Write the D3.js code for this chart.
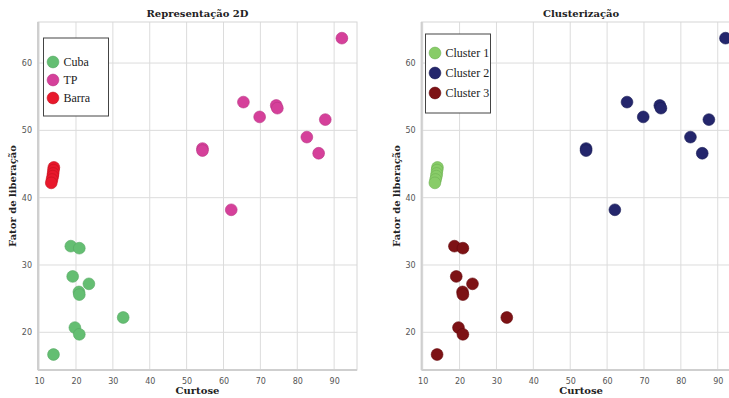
<!DOCTYPE html>
<html lang="pt">

<head>
  <meta charset="utf-8">
  <title>Curtose x Fator de liberação</title>
  <script type="text/javascript" src="https://cdn.jsdelivr.net/npm/d3@7"></script>
  <style>
    body { margin: 0; background: #fff; }
    .legend-text { font-family: "Liberation Serif", "Times New Roman", Times, serif; }
  </style>
</head>

<body>
  <script type="text/javascript">

    // Data
    var cubaX = [13.9, 19.7, 20.9, 32.8, 20.8, 20.9, 23.5, 19.1, 18.6, 20.9];
    var cubaY = [16.7, 20.7, 19.7, 22.2, 26.0, 25.6, 27.2, 28.3, 32.8, 32.5];

    var tpX = [92.1, 65.4, 69.8, 74.3, 74.6, 87.6, 82.6, 54.3, 54.3, 85.8, 62.1];
    var tpY = [63.7, 54.2, 52.0, 53.7, 53.3, 51.6, 49.0, 47.3, 47.0, 46.6, 38.2];

    var barraX = [14.0, 13.9, 13.8, 13.7, 13.5, 13.3];
    var barraY = [44.5, 44.1, 43.6, 43.2, 42.7, 42.2];

    var xTicks = [10, 20, 30, 40, 50, 60, 70, 80, 90];
    var yTicks = [20, 30, 40, 50, 60];

    var groupNames = ["Cuba", "TP", "Barra"];
    var groupColors = ["#64be72", "#d5409a", "#e8182c"];
    var groupEdges = ["#55a863", "#b93584", "#c4101f"];

    // clusters found: Cluster 1 = Barra points, Cluster 2 = TP points, Cluster 3 = Cuba points
    var clusterNames = ["Cluster 1", "Cluster 2", "Cluster 3"];
    var clusterColors = ["#88cc68", "#24266c", "#7d1215"];
    var clusterEdges = ["#6fb254", "#1a1c55", "#64090c"];

    function pts(xs, ys) {
      return xs.map(function (x, i) { return { x: x, y: ys[i] }; });
    }

    var cuba = pts(cubaX, cubaY);
    var tp = pts(tpX, tpY);
    var barra = pts(barraX, barraY);

    var w = 729;
    var h = 398;

    var svg = d3.select("body")
      .append("svg")
      .attr("width", w)
      .attr("height", h);

    var plotW = 319;
    var plotTop = 22;
    var plotBottom = 370;

    function panel(left, title, groups, names, colors, edges, legendBox) {
      var xScale = d3.scaleLinear()
        .domain([9.7, 96.2])
        .range([left, left + plotW]);

      var yScale = d3.scaleLinear()
        .domain([14.4, 66.1])
        .range([plotBottom, plotTop]);

      var g = svg.append("g");

      // grid
      g.selectAll(".vgrid")
        .data(xTicks)
        .enter()
        .append("line")
        .attr("x1", function (d) { return xScale(d); })
        .attr("x2", function (d) { return xScale(d); })
        .attr("y1", plotTop)
        .attr("y2", plotBottom)
        .attr("stroke", "#dcdcdc")
        .attr("stroke-width", 1);

      g.selectAll(".hgrid")
        .data(yTicks)
        .enter()
        .append("line")
        .attr("x1", left)
        .attr("x2", left + plotW)
        .attr("y1", function (d) { return yScale(d); })
        .attr("y2", function (d) { return yScale(d); })
        .attr("stroke", "#dcdcdc")
        .attr("stroke-width", 1);

      // frame
      g.append("rect")
        .attr("x", left)
        .attr("y", plotTop)
        .attr("width", plotW)
        .attr("height", plotBottom - plotTop)
        .attr("fill", "none")
        .attr("stroke", "#d6d6d6")
        .attr("stroke-width", 1);

      g.append("line")
        .attr("x1", left).attr("x2", left)
        .attr("y1", plotTop).attr("y2", plotBottom)
        .attr("stroke", "#cfcfcf").attr("stroke-width", 2);

      g.append("line")
        .attr("x1", left).attr("x2", left + plotW)
        .attr("y1", plotBottom).attr("y2", plotBottom)
        .attr("stroke", "#cfcfcf").attr("stroke-width", 2);

      // axes
      var xAxis = d3.axisBottom(xScale).tickValues(xTicks).tickSize(0).tickPadding(8);
      var yAxis = d3.axisLeft(yScale).tickValues(yTicks).tickSize(0).tickPadding(6);

      var gx = g.append("g")
        .attr("transform", "translate(0," + plotBottom + ")")
        .call(xAxis);
      var gy = g.append("g")
        .attr("transform", "translate(" + left + ",0)")
        .call(yAxis);

      [gx, gy].forEach(function (a) {
        a.select(".domain").remove();
        a.selectAll("text")
          .attr("font-family", "DejaVu Sans, sans-serif")
          .attr("font-size", "8px")
          .attr("fill", "#555");
      });

      // points
      groups.forEach(function (data, k) {
        g.append("g")
          .selectAll("circle")
          .data(data)
          .enter()
          .append("circle")
          .attr("cx", function (d) { return xScale(d.x); })
          .attr("cy", function (d) { return yScale(d.y); })
          .attr("r", 5.9)
          .attr("fill", colors[k])
          .attr("stroke", edges[k])
          .attr("stroke-width", 0.6);
      });

      // title
      g.append("text")
        .attr("x", left + plotW / 2)
        .attr("y", 17)
        .attr("text-anchor", "middle")
        .attr("font-family", "DejaVu Serif, serif")
        .attr("font-weight", "bold")
        .attr("font-size", "10px")
        .attr("fill", "#222")
        .text(title);

      // axis labels
      g.append("text")
        .attr("x", left + plotW / 2)
        .attr("y", 394)
        .attr("text-anchor", "middle")
        .attr("font-family", "DejaVu Serif, serif")
        .attr("font-weight", "bold")
        .attr("font-size", "10px")
        .attr("fill", "#222")
        .text("Curtose");

      g.append("text")
        .attr("transform", "translate(" + (left - 22) + "," + ((plotTop + plotBottom) / 2) + ") rotate(-90)")
        .attr("text-anchor", "middle")
        .attr("font-family", "DejaVu Serif, serif")
        .attr("font-weight", "bold")
        .attr("font-size", "10px")
        .attr("fill", "#222")
        .text("Fator de liberação");

      // legend
      var lg = g.append("g");
      lg.append("rect")
        .attr("x", legendBox.x)
        .attr("y", legendBox.y)
        .attr("width", legendBox.w)
        .attr("height", legendBox.h)
        .attr("fill", "#fff")
        .attr("stroke", "#444")
        .attr("stroke-width", 1);

      names.forEach(function (name, k) {
        var cy = legendBox.first + k * legendBox.step;
        lg.append("circle")
          .attr("cx", legendBox.x + 9.5)
          .attr("cy", cy)
          .attr("r", 5.9)
          .attr("fill", colors[k])
          .attr("stroke", edges[k])
          .attr("stroke-width", 0.6);
        lg.append("text")
          .attr("class", "legend-text")
          .attr("x", legendBox.x + 20)
          .attr("y", cy + 4)
          .attr("font-size", "12px")
          .attr("fill", "#222")
          .text(name);
      });
    }

    panel(38, "Representação 2D", [cuba, tp, barra], groupNames, groupColors, groupEdges,
      { x: 43.5, y: 38, w: 65, h: 78, first: 62, step: 18 });

    panel(421.6, "Clusterização", [barra, tp, cuba], clusterNames, clusterColors, clusterEdges,
      { x: 425.5, y: 34, w: 65, h: 79, first: 53, step: 20 });

  </script>
</body>

</html>
